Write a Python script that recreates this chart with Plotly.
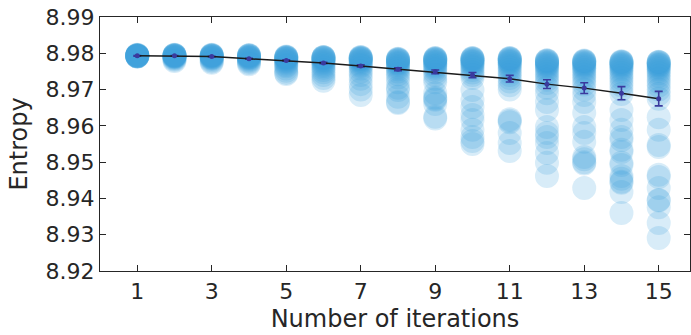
import plotly.graph_objects as go

iterations = list(range(1, 16))

runs_1 = [8.9796, 8.9795, 8.9795, 8.9794, 8.9794, 8.9794, 8.9793, 8.9793, 8.9793, 8.9793, 8.9792, 8.9792, 8.9792, 8.9791, 8.9791]
runs_2 = [8.9796, 8.9795, 8.9795, 8.9794, 8.9794, 8.9793, 8.9793, 8.9792, 8.9792, 8.9791, 8.9790, 8.9789, 8.9787, 8.9785, 8.9782, 8.9779]
runs_3 = [8.9796, 8.9795, 8.9794, 8.9794, 8.9793, 8.9793, 8.9792, 8.9791, 8.9790, 8.9789, 8.9788, 8.9786, 8.9784, 8.9781, 8.9777, 8.9774]
runs_4 = [8.9795, 8.9794, 8.9794, 8.9793, 8.9792, 8.9791, 8.9790, 8.9789, 8.9788, 8.9787, 8.9785, 8.9783, 8.9780, 8.9777, 8.9773, 8.9770]
runs_5 = [8.9791, 8.9790, 8.9790, 8.9789, 8.9788, 8.9787, 8.9786, 8.9785, 8.9784, 8.9782, 8.9780, 8.9778, 8.9775, 8.9772, 8.9768, 8.9764, 8.9758, 8.9752, 8.9746, 8.9743]
runs_6 = [8.9790, 8.9789, 8.9789, 8.9788, 8.9787, 8.9786, 8.9785, 8.9783, 8.9781, 8.9779, 8.9776, 8.9773, 8.9769, 8.9765, 8.9760, 8.9754, 8.9748, 8.9740, 8.9732, 8.9724]
runs_7 = [8.9790, 8.9789, 8.9788, 8.9787, 8.9786, 8.9785, 8.9784, 8.9782, 8.9780, 8.9778, 8.9775, 8.9772, 8.9768, 8.9764, 8.9758, 8.9750, 8.9740, 8.9730, 8.9715, 8.9700, 8.9685]
runs_8 = [8.9785, 8.9784, 8.9783, 8.9782, 8.9781, 8.9780, 8.9778, 8.9776, 8.9774, 8.9772, 8.9769, 8.9765, 8.9761, 8.9756, 8.9750, 8.9742, 8.9733, 8.9720, 8.9705, 8.9699, 8.9680, 8.9666, 8.9663]
runs_9 = [8.9787, 8.9786, 8.9785, 8.9784, 8.9783, 8.9782, 8.9780, 8.9778, 8.9776, 8.9774, 8.9771, 8.9768, 8.9764, 8.9760, 8.9755, 8.9748, 8.9740, 8.9730, 8.9720, 8.9690, 8.9678, 8.9675, 8.9672, 8.9660, 8.9625, 8.9620]
runs_10 = [8.9787, 8.9786, 8.9785, 8.9784, 8.9783, 8.9781, 8.9779, 8.9777, 8.9775, 8.9772, 8.9769, 8.9765, 8.9760, 8.9754, 8.9747, 8.9740, 8.9732, 8.9699, 8.9671, 8.9652, 8.9630, 8.9616, 8.9589, 8.9569, 8.9558, 8.9550]
runs_11 = [8.9787, 8.9786, 8.9785, 8.9784, 8.9783, 8.9781, 8.9779, 8.9777, 8.9775, 8.9772, 8.9769, 8.9765, 8.9760, 8.9754, 8.9747, 8.9740, 8.9732, 8.9722, 8.9712, 8.9700, 8.9618, 8.9614, 8.9610, 8.9580, 8.9553, 8.9531]
runs_12 = [8.9781, 8.9780, 8.9779, 8.9778, 8.9776, 8.9774, 8.9772, 8.9770, 8.9767, 8.9764, 8.9760, 8.9755, 8.9749, 8.9742, 8.9735, 8.9727, 8.9718, 8.9705, 8.9690, 8.9666, 8.9644, 8.9597, 8.9580, 8.9569, 8.9553, 8.9525, 8.9498, 8.9462]
runs_13 = [8.9780, 8.9779, 8.9778, 8.9777, 8.9775, 8.9773, 8.9771, 8.9769, 8.9766, 8.9763, 8.9759, 8.9754, 8.9748, 8.9741, 8.9733, 8.9724, 8.9714, 8.9700, 8.9685, 8.9666, 8.9636, 8.9597, 8.9580, 8.9556, 8.9514, 8.9508, 8.9500, 8.9496, 8.9429]
runs_14 = [8.9778, 8.9777, 8.9776, 8.9775, 8.9773, 8.9771, 8.9769, 8.9767, 8.9764, 8.9761, 8.9757, 8.9752, 8.9746, 8.9739, 8.9731, 8.9722, 8.9712, 8.9700, 8.9688, 8.9644, 8.9616, 8.9589, 8.9569, 8.9561, 8.9534, 8.9528, 8.9498, 8.9492, 8.9462, 8.9454, 8.9446, 8.9443, 8.9418, 8.9360]
runs_15 = [8.9777, 8.9776, 8.9775, 8.9774, 8.9772, 8.9770, 8.9768, 8.9766, 8.9763, 8.9760, 8.9756, 8.9751, 8.9745, 8.9738, 8.9730, 8.9721, 8.9711, 8.9700, 8.9688, 8.9675, 8.9624, 8.9589, 8.9547, 8.9542, 8.9465, 8.9459, 8.9429, 8.9396, 8.9394, 8.9376, 8.9332, 8.9291]

all_runs = [runs_1, runs_2, runs_3, runs_4, runs_5, runs_6, runs_7, runs_8,
            runs_9, runs_10, runs_11, runs_12, runs_13, runs_14, runs_15]

mean_entropy = [8.9793, 8.9793, 8.9791, 8.9785, 8.9780, 8.9773, 8.9765, 8.9756,
                8.9749, 8.9740, 8.9730, 8.9715, 8.9704, 8.9690, 8.9675]
error_entropy = [0.0001, 0.0001, 0.0001, 0.0001, 0.0002, 0.0002, 0.0003, 0.0004,
                 0.0005, 0.0007, 0.0009, 0.0012, 0.0015, 0.0018, 0.0020]

x_tick_vals = [1, 3, 5, 7, 9, 11, 13, 15]
y_tick_vals = [8.92, 8.93, 8.94, 8.95, 8.96, 8.97, 8.98, 8.99]

scatter_x = []
scatter_y = []
for it, runs in zip(iterations, all_runs):
    scatter_x.extend([it] * len(runs))
    scatter_y.extend(runs)

fig = go.Figure()
fig.add_trace(go.Scatter(
    x=scatter_x, y=scatter_y, mode="markers",
    marker=dict(size=24, color="rgba(62,162,222,0.2)", line=dict(width=0)),
    showlegend=False, hoverinfo="skip"))

fig.add_trace(go.Scatter(
    x=iterations, y=mean_entropy, mode="lines+markers",
    line=dict(color="#1a1a1a", width=1.5),
    marker=dict(size=5, color="#3a3a9e"),
    error_y=dict(type="data", array=error_entropy, color="#3a3a9e", thickness=1.6, width=4),
    showlegend=False))

axis_common = dict(
    showline=True, linecolor="#262626", linewidth=1.2, mirror="ticks",
    ticks="inside", ticklen=6, tickwidth=1.1, tickcolor="#262626",
    showgrid=False, zeroline=False,
    tickfont=dict(family="DejaVu Sans", size=22, color="#262626"),
)

fig.update_layout(
    width=691, height=335,
    margin=dict(l=100, r=1, t=17, b=64),
    plot_bgcolor="white", paper_bgcolor="white",
    xaxis=dict(range=[0, 15.84], tickvals=x_tick_vals,
               title=dict(text="Number of iterations", font=dict(family="DejaVu Sans", size=24, color="#262626"), standoff=7),
               **axis_common),
    yaxis=dict(range=[8.92, 8.99], tickvals=y_tick_vals, tickformat=".2f",
               title=dict(text="Entropy", font=dict(family="DejaVu Sans", size=24, color="#262626"), standoff=11),
               **axis_common),
)

fig.write_html("out.html")
